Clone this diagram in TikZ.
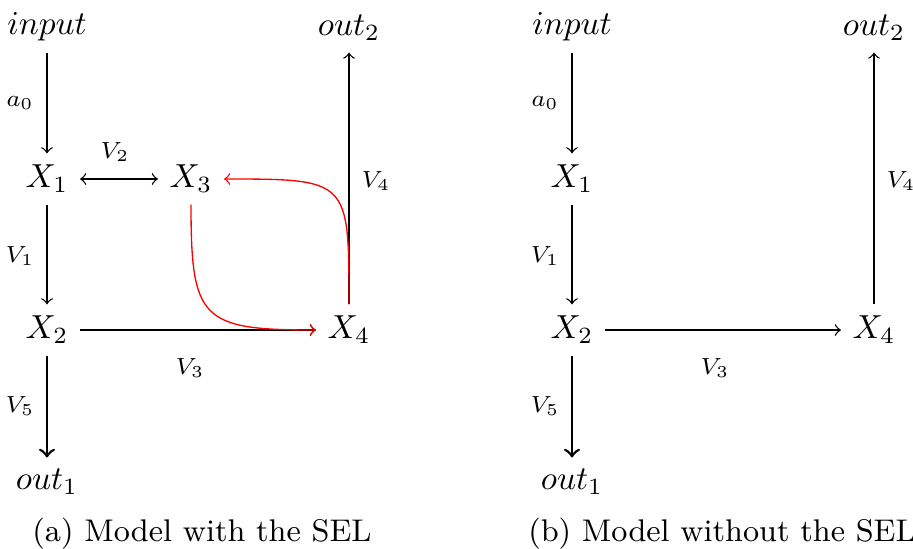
\documentclass[tikz,border=0pt]{standalone}
\usepackage{graphicx}
\begin{document}
\begin{tikzpicture}[x=0.3pt,y=-0.3pt,
  nd/.style={inner sep=3.33pt},
  lab/.style={font=\fontsize{7}{8.5}\selectfont, inner sep=0pt},
  arr/.style={->},
  thickarr/.style={->, thick},
  selarr/.style={->, red},
  captext/.style={anchor=base, inner sep=0pt, font=\fontsize{9.4}{11}\selectfont}]
\useasboundingbox (0,0) rectangle (913,548);
% ---------- (a) ----------
\node[nd] (ain) at (47,27) {$input$};
\node[nd] (aX1) at (47,179) {$X_1$};
\node[nd] (aX3) at (191,179) {$X_3$};
\node[nd] (aX2) at (47,330) {$X_2$};
\node[nd] (aX4) at (349,330) {$X_4$};
\node[nd] (aout2) at (349,28) {$out_2$};
\node[nd] (aout1) at (47,482) {$out_1$};
\draw[arr] (ain) -- (aX1);
\draw[<->] (aX1) -- (aX3);
\draw[arr] (aX1) -- (aX2);
\draw[arr] (aX2) -- (aX4);
\draw[arr] (aX4) -- (aout2);
\draw[thickarr] (aX2) -- (aout1);
\draw[selarr] (aX4.north) .. controls +(0,-125) and +(125,0) .. (aX3.east);
\draw[selarr] (aX3.south) .. controls +(0,115) and +(-115,0) .. (aX4.west);
\node[lab] (aa0) at (20,103) {$a_0$};
\node[lab] (aV2) at (115,152) {$V_2$};
\node[lab] (aV1) at (20,256) {$V_1$};
\node[lab] (aV3) at (190,368) {$V_3$};
\node[lab] (aV4) at (376,181) {$V_4$};
\node[lab] (aV5) at (20,406) {$V_5$};
\node[captext] (capa) at (202,541) {(a) Model with the SEL};
% ---------- (b) ----------
\node[nd] (bin) at (572,27) {$input$};
\node[nd] (bX1) at (572,179) {$X_1$};
\node[nd] (bX2) at (572,330) {$X_2$};
\node[nd] (bX4) at (874,330) {$X_4$};
\node[nd] (bout2) at (874,28) {$out_2$};
\node[nd] (bout1) at (572,482) {$out_1$};
\draw[arr] (bin) -- (bX1);
\draw[arr] (bX1) -- (bX2);
\draw[arr] (bX2) -- (bX4);
\draw[arr] (bX4) -- (bout2);
\draw[thickarr] (bX2) -- (bout1);
\node[lab] (ba0) at (545,103) {$a_0$};
\node[lab] (bV1) at (545,256) {$V_1$};
\node[lab] (bV3) at (715,368) {$V_3$};
\node[lab] (bV4) at (901,181) {$V_4$};
\node[lab] (bV5) at (545,406) {$V_5$};
\node[captext] (capb) at (722,541) {(b) Model without the SEL};
\end{tikzpicture}
\end{document}
